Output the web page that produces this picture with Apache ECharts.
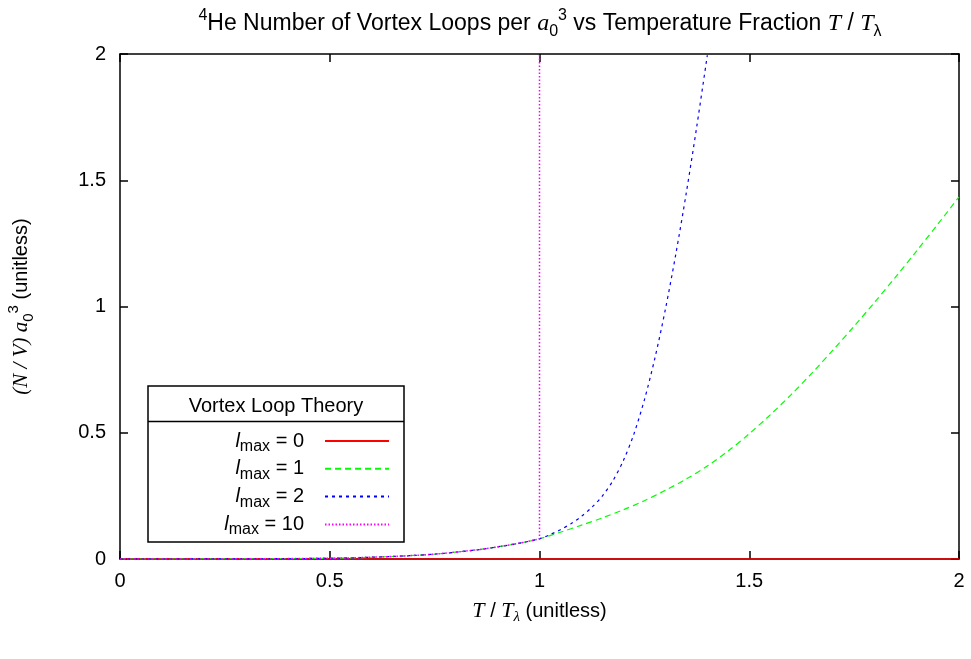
<!DOCTYPE html>
<html>
<head>
<meta charset="utf-8">
<script src="https://cdn.jsdelivr.net/npm/echarts@6/dist/echarts.min.js"></script>
<style>html,body{margin:0;padding:0;background:#fff;}#c{width:971px;height:659px;}</style>
</head>
<body>
<div id="c"></div>
<script>
// Shared low-temperature part (all l_max > 0 curves coincide here)
const xCommon = [0, 0.1, 0.2, 0.3, 0.4, 0.5, 0.55, 0.6, 0.65, 0.7, 0.75, 0.8, 0.85, 0.9, 0.95, 1.0];
const yCommon = [0, 0, 0.0002, 0.0006, 0.0015, 0.003, 0.0045, 0.007, 0.01, 0.014, 0.019, 0.027, 0.036, 0.048, 0.062, 0.08];
// l_max = 0
const xL0 = [0, 2];
const yL0 = [0, 0];
// l_max = 1 beyond T/Tλ = 1
const xL1 = [1.05, 1.1, 1.15, 1.2, 1.25, 1.3, 1.35, 1.4, 1.45, 1.5, 1.55, 1.6, 1.65, 1.7, 1.75, 1.8, 1.85, 1.9, 1.95, 2.0];
const yL1 = [0.106, 0.134, 0.163, 0.195, 0.231, 0.272, 0.317, 0.368, 0.428, 0.496, 0.571, 0.651, 0.737, 0.828, 0.922, 1.019, 1.119, 1.222, 1.327, 1.434];
// l_max = 2 beyond T/Tλ = 1
const xL2 = [1.025, 1.05, 1.075, 1.1, 1.125, 1.15, 1.175, 1.2, 1.225, 1.25, 1.275, 1.3, 1.325, 1.35, 1.375, 1.4];
const yL2 = [0.0965, 0.116, 0.14, 0.169, 0.205, 0.25, 0.31, 0.39, 0.495, 0.63, 0.795, 0.988, 1.208, 1.451, 1.714, 1.995];
// l_max = 10 diverges at T/Tλ = 1
const xL10 = [1.0];
const yL10 = [2.0];

const names = ['lmax = 0', 'lmax = 1', 'lmax = 2', 'lmax = 10'];
const nums = ['0', '1', '2', '10'];

const pairs = (xs, ys) => xs.map((x, i) => [x, ys[i]]);
const common = pairs(xCommon, yCommon);

const SANS = 'Liberation Sans';
const SERIF = 'Liberation Serif';
const FS = 20;

const chart = echarts.init(document.getElementById('c'), null, {renderer: 'canvas'});

const axisCommon = {
  type: 'value', min: 0, max: 2, interval: 0.5,
  axisLine: {show: true, onZero: false, lineStyle: {color: '#000', width: 1.5}},
  axisTick: {show: true, inside: true, length: 8, lineStyle: {color: '#000', width: 1.5}},
  splitLine: {show: false}
};

const option = {
  backgroundColor: '#fff',
  animation: false,
  title: {
    text: '{sup|4}{n|He Number of Vortex Loops per }{it|a}{sub|0}{sup|3}{n| vs Temperature Fraction }{it|T}{n| / }{it|T}{sub|λ}',
    left: 535, top: 3, textAlign: 'center',
    textStyle: {
      fontWeight: 'normal',
      rich: {
        n: {fontFamily: SANS, fontWeight: 'normal', fontSize: 23, color: '#000', lineHeight: 32},
        it: {fontFamily: SERIF, fontWeight: 'normal', fontStyle: 'italic', fontSize: 24, color: '#000', lineHeight: 32},
        sup: {fontFamily: SANS, fontWeight: 'normal', fontSize: 16, color: '#000', verticalAlign: 'top', lineHeight: 15},
        sub: {fontFamily: SANS, fontWeight: 'normal', fontSize: 16, color: '#000', verticalAlign: 'bottom', lineHeight: 15}
      }
    }
  },
  grid: {left: 120, right: 12, top: 54, bottom: 100, containLabel: false, outerBoundsMode: 'none'},
  xAxis: [
    Object.assign({}, axisCommon, {
      position: 'bottom',
      axisLabel: {fontFamily: SANS, fontSize: FS, color: '#000', margin: 12},
      name: '{it|T}{n| / }{it|T}{sub|λ}{n| (unitless)}',
      nameLocation: 'middle', nameGap: 38,
      nameTextStyle: {
        rich: {
          n: {fontFamily: SANS, fontSize: FS, color: '#000', lineHeight: 28},
          it: {fontFamily: SERIF, fontStyle: 'italic', fontSize: FS + 2, color: '#000', lineHeight: 28},
          sub: {fontFamily: SERIF, fontStyle: 'italic', fontSize: 15, color: '#000', verticalAlign: 'bottom', lineHeight: 12}
        }
      }
    }),
    Object.assign({}, axisCommon, {position: 'top', axisLabel: {show: false}})
  ],
  yAxis: [
    Object.assign({}, axisCommon, {
      position: 'left',
      axisLabel: {fontFamily: SANS, fontSize: FS, color: '#000', margin: 14},
      name: '{it|(N / V) a}{sub|0}{sup|3}{n| (unitless)}',
      nameLocation: 'middle', nameGap: 84, nameRotate: 90,
      nameTextStyle: {
        rich: {
          n: {fontFamily: SANS, fontSize: FS, color: '#000', lineHeight: 30},
          it: {fontFamily: SERIF, fontStyle: 'italic', fontSize: FS + 1, color: '#000', lineHeight: 30},
          sup: {fontFamily: SANS, fontSize: 15, color: '#000', verticalAlign: 'top', lineHeight: 14},
          sub: {fontFamily: SANS, fontSize: 15, color: '#000', verticalAlign: 'bottom', lineHeight: 14}
        }
      }
    }),
    Object.assign({}, axisCommon, {position: 'right', axisLabel: {show: false}})
  ],
  legend: {
    orient: 'vertical',
    right: 581, top: 431,
    padding: 0,
    align: 'right',
    itemWidth: 64, itemHeight: 14, itemGap: 4.3,
    itemStyle: {opacity: 0},
    data: names,
    formatter: function (name) {
      const k = names.indexOf(name);
      return '{i|l}{s|max}{n| = ' + nums[k] + '}';
    },
    textStyle: {
      width: 150, padding: [0, 16, 0, 0],
      rich: {
        i: {fontFamily: SANS, fontStyle: 'italic', fontSize: FS, color: '#000', align: 'right', lineHeight: 27},
        s: {fontFamily: SANS, fontSize: 16, color: '#000', align: 'right', verticalAlign: 'bottom', lineHeight: 14},
        n: {fontFamily: SANS, fontSize: FS, color: '#000', align: 'right', lineHeight: 27}
      }
    }
  },
  graphic: [
    {type: 'rect', shape: {x: 148, y: 386, width: 256, height: 156}, style: {fill: 'none', stroke: '#000', lineWidth: 1.5}, z: 100},
    {type: 'line', shape: {x1: 148, y1: 421.5, x2: 404, y2: 421.5}, style: {stroke: '#000', lineWidth: 1.5}, z: 100},
    {type: 'text', x: 276, y: 406, style: {text: 'Vortex Loop Theory', align: 'center', verticalAlign: 'middle', font: FS + 'px ' + SANS, fill: '#000'}, z: 100}
  ],
  series: [
    {name: names[0], type: 'line', showSymbol: false, symbol: 'none', z: 3,
     data: pairs(xL0, yL0), lineStyle: {color: '#ff0000', width: 1.3, type: 'solid'}, itemStyle: {color: '#ff0000'}},
    {name: names[1], type: 'line', showSymbol: false, symbol: 'none', smooth: 0.3, z: 4,
     data: common.concat(pairs(xL1, yL1)), lineStyle: {color: '#00ff00', width: 1.2, type: [6, 4]}, itemStyle: {color: '#00ff00'}},
    {name: names[2], type: 'line', showSymbol: false, symbol: 'none', smooth: 0.3, z: 5,
     data: common.concat(pairs(xL2, yL2)), lineStyle: {color: '#0000ff', width: 1.2, type: [3, 4]}, itemStyle: {color: '#0000ff'}},
    {name: names[3], type: 'line', showSymbol: false, symbol: 'none', z: 6,
     data: common.concat(pairs(xL10, yL10)), lineStyle: {color: '#ff00ff', width: 1.5, type: [1.5, 2]}, itemStyle: {color: '#ff00ff'}}
  ]
};
chart.setOption(option);
</script>
</body>
</html>
